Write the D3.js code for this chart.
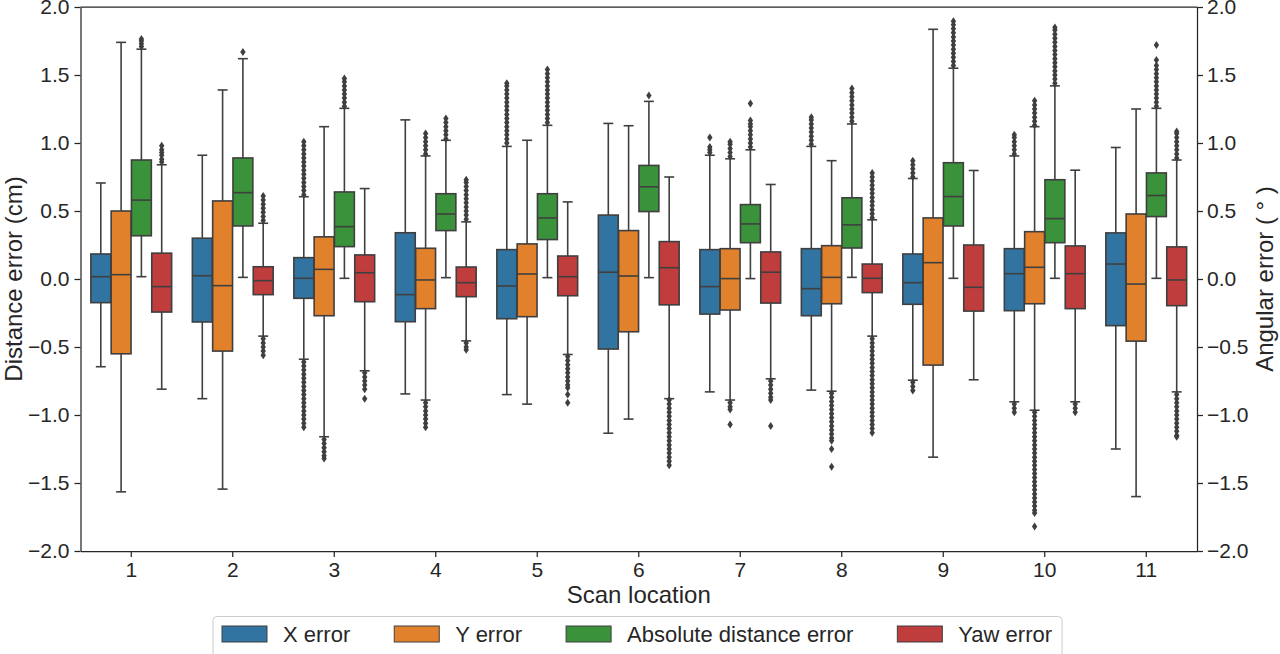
<!DOCTYPE html>
<html>
<head>
<meta charset="utf-8">
<script src="https://cdn.jsdelivr.net/npm/d3@7"></script>
<style>
body { margin: 0; background: #fff; }
text { font-family: "Liberation Sans", Arial, sans-serif; fill: #262626; }
</style>
</head>
<body>
<div id="chart"></div>
<script>
var width = 1280
var height = 654

const locations = ["1", "2", "3", "4", "5", "6", "7", "8", "9", "10", "11"];
const seriesNames = ["X error", "Y error", "Absolute distance error", "Yaw error"];
const seriesColors = ["#3274a1", "#e1812c", "#3a923a", "#c03d3e"];
const yTicks = [-2.0, -1.5, -1.0, -0.5, 0.0, 0.5, 1.0, 1.5, 2.0];

// [lower whisker, q1, median, q3, upper whisker] for each scan location
const xError = [
    [-0.645, -0.174, 0.017, 0.184, 0.706],
    [-0.88, -0.316, 0.024, 0.30, 0.91],
    [-0.59, -0.142, 0.005, 0.157, 0.605],
    [-0.845, -0.314, -0.115, 0.34, 1.17],
    [-0.85, -0.292, -0.051, 0.216, 0.975],
    [-1.134, -0.515, 0.05, 0.47, 1.144],
    [-0.83, -0.258, -0.056, 0.216, 0.91],
    [-0.817, -0.27, -0.071, 0.223, 0.975],
    [-0.744, -0.186, -0.027, 0.184, 0.739],
    [-0.903, -0.233, 0.039, 0.223, 0.905],
    [-1.25, -0.343, 0.11, 0.339, 0.967]
];
const yError = [
    [-1.565, -0.55, 0.032, 0.50, 1.74],
    [-1.545, -0.53, -0.049, 0.574, 1.39],
    [-1.16, -0.27, 0.071, 0.31, 1.12],
    [-0.89, -0.218, -0.007, 0.226, 0.905],
    [-0.92, -0.277, 0.037, 0.258, 1.02],
    [-1.03, -0.388, 0.022, 0.356, 1.127],
    [-0.89, -0.228, 0.003, 0.223, 0.884],
    [-0.825, -0.182, 0.012, 0.245, 0.87],
    [-1.31, -0.633, 0.12, 0.449, 1.836],
    [-0.965, -0.182, 0.086, 0.348, 1.12],
    [-1.60, -0.457, -0.037, 0.478, 1.25]
];
const absError = [
    [0.017, 0.318, 0.58, 0.875, 1.69],
    [0.012, 0.39, 0.635, 0.89, 1.62],
    [0.005, 0.238, 0.385, 0.64, 1.255],
    [0.01, 0.356, 0.478, 0.627, 1.02],
    [0.01, 0.29, 0.449, 0.627, 1.13],
    [0.01, 0.496, 0.678, 0.835, 1.306],
    [0.003, 0.267, 0.405, 0.547, 0.95],
    [0.012, 0.228, 0.398, 0.597, 1.14],
    [0.005, 0.39, 0.606, 0.855, 1.55],
    [0.005, 0.267, 0.444, 0.73, 1.42],
    [0.005, 0.459, 0.614, 0.78, 1.255]
];
const yawError = [
    [-0.81, -0.243, -0.056, 0.19, 0.84],
    [-0.42, -0.115, -0.012, 0.09, 0.41],
    [-0.675, -0.167, 0.046, 0.177, 0.665],
    [-0.455, -0.13, -0.027, 0.088, 0.42],
    [-0.555, -0.123, 0.017, 0.169, 0.567],
    [-0.88, -0.19, 0.083, 0.275, 0.75],
    [-0.734, -0.177, 0.05, 0.199, 0.695],
    [-0.42, -0.1, 0.005, 0.11, 0.435],
    [-0.741, -0.236, -0.061, 0.25, 0.798],
    [-0.903, -0.218, 0.039, 0.243, 0.80],
    [-0.83, -0.196, -0.007, 0.236, 0.875]
];

// outlier points (fliers) for each scan location
const xOutliers = [
    [],
    [],
    [0.62, 0.65, 0.68, 0.71, 0.74, 0.77, 0.80, 0.83, 0.86, 0.89, 0.92, 0.95, 0.98, 1.01,
     -0.61, -0.64, -0.67, -0.70, -0.73, -0.76, -0.79, -0.82, -0.85, -0.88, -0.91, -0.94, -0.97, -1.00, -1.03, -1.06, -1.09],
    [],
    [1.00, 1.03, 1.06, 1.09, 1.12, 1.15, 1.18, 1.21, 1.24, 1.27, 1.30, 1.33, 1.36, 1.39, 1.42, 1.44],
    [],
    [0.93, 0.95, 0.97, 1.04],
    [0.99, 1.02, 1.05, 1.08, 1.11, 1.14, 1.17, 1.19],
    [0.75, 0.78, 0.81, 0.84, 0.87, -0.76, -0.79, -0.82],
    [0.92, 0.95, 0.98, 1.01, 1.04, 1.06, -0.92, -0.95, -0.98],
    []
];
const yOutliers = [
    [],
    [],
    [-1.18, -1.21, -1.24, -1.27, -1.30, -1.32],
    [0.92, 0.95, 0.98, 1.01, 1.04, 1.07, -0.91, -0.94, -0.97, -1.00, -1.03, -1.06, -1.09],
    [],
    [],
    [0.90, 0.93, 0.96, 0.99, 1.01, -0.91, -0.94, -0.96, -1.07],
    [-0.84, -0.87, -0.90, -0.93, -0.96, -0.99, -1.02, -1.05, -1.08, -1.11, -1.14, -1.17, -1.19, -1.25, -1.38],
    [],
    [1.13, 1.16, 1.19, 1.22, 1.25, 1.28, 1.31,
     -0.98, -1.01, -1.04, -1.07, -1.10, -1.13, -1.16, -1.19, -1.22, -1.25, -1.28, -1.31, -1.34, -1.37, -1.40,
     -1.43, -1.46, -1.49, -1.52, -1.55, -1.58, -1.61, -1.64, -1.67, -1.70, -1.72, -1.82],
    []
];
const absOutliers = [
    [1.71, 1.73, 1.75, 1.765],
    [1.67],
    [1.27, 1.30, 1.33, 1.36, 1.39, 1.42, 1.45, 1.475],
    [1.03, 1.06, 1.09, 1.12, 1.15, 1.18],
    [1.15, 1.18, 1.21, 1.24, 1.27, 1.30, 1.33, 1.36, 1.39, 1.42, 1.45, 1.48, 1.51, 1.54],
    [1.35],
    [0.97, 1.00, 1.03, 1.06, 1.09, 1.12, 1.14, 1.165, 1.29],
    [1.16, 1.19, 1.22, 1.25, 1.28, 1.31, 1.34, 1.37, 1.40],
    [1.57, 1.60, 1.63, 1.66, 1.69, 1.72, 1.75, 1.78, 1.81, 1.84, 1.87, 1.895],
    [1.44, 1.47, 1.50, 1.53, 1.56, 1.59, 1.62, 1.65, 1.68, 1.71, 1.74, 1.77, 1.80, 1.83, 1.85],
    [1.27, 1.30, 1.33, 1.36, 1.39, 1.42, 1.45, 1.48, 1.51, 1.54, 1.57, 1.61, 1.72]
];
const yawOutliers = [
    [0.86, 0.88, 0.91, 0.93, 0.95, 0.98],
    [0.43, 0.46, 0.49, 0.52, 0.55, 0.58, 0.61, -0.44, -0.47, -0.50, -0.53, -0.56],
    [-0.69, -0.72, -0.75, -0.78, -0.81, -0.88],
    [0.44, 0.47, 0.50, 0.53, 0.56, 0.59, 0.62, 0.65, 0.68, 0.71, 0.73, -0.47, -0.50, -0.52],
    [-0.57, -0.60, -0.63, -0.66, -0.69, -0.72, -0.75, -0.78, -0.80, -0.85, -0.91],
    [-0.89, -0.92, -0.95, -0.98, -1.01, -1.04, -1.07, -1.10, -1.13, -1.16, -1.19, -1.22, -1.25, -1.28, -1.31, -1.34, -1.37],
    [-0.75, -0.78, -0.81, -0.84, -0.87, -0.89, -1.08],
    [0.45, 0.48, 0.51, 0.54, 0.57, 0.60, 0.63, 0.66, 0.69, 0.72, 0.75, 0.78,
     -0.44, -0.47, -0.50, -0.53, -0.56, -0.59, -0.62, -0.65, -0.68, -0.71, -0.74, -0.77, -0.80, -0.83, -0.86,
     -0.89, -0.92, -0.95, -0.98, -1.01, -1.04, -1.07, -1.10, -1.13],
    [],
    [-0.92, -0.95, -0.98],
    [0.89, 0.92, 0.95, 0.98, 1.01, 1.04, 1.07, 1.085,
     -0.85, -0.88, -0.91, -0.94, -0.97, -1.00, -1.03, -1.06, -1.09, -1.12, -1.15, -1.16]
];

const stats = [xError, yError, absError, yawError];
const fliers = [xOutliers, yOutliers, absOutliers, yawOutliers];

const margin = {top: 7, right: 83, bottom: 103, left: 80.5};
const lineColor = "#3f3f3f";

const svg = d3.select("#chart")
    .append("svg")
    .attr("width", width)
    .attr("height", height);

const x = d3.scaleBand()
    .domain(locations)
    .range([margin.left, width - margin.right])
    .padding(0);

const hue = d3.scaleBand()
    .domain(seriesNames)
    .range([-x.bandwidth() * 0.4, x.bandwidth() * 0.4]);

const y = d3.scaleLinear()
    .domain([-2, 2])
    .range([height - margin.bottom, margin.top]);

// second axis for the angular error, same range
const y2 = d3.scaleLinear()
    .domain([-2, 2])
    .range([height - margin.bottom, margin.top]);

const fmt = d3.format(".1f");
const boxW = hue.bandwidth() * 0.98;

const rows = [];
locations.forEach(function(loc, i) {
    seriesNames.forEach(function(name, s) {
        rows.push({
            loc: loc, s: s, name: name,
            v: stats[s][i], out: fliers[s][i],
            cx: x(loc) + x.bandwidth() / 2 + hue(name) + hue.bandwidth() / 2
        });
    });
});

const boxes = svg.append("g")
    .selectAll("g")
    .data(rows)
    .enter()
    .append("g");

// whiskers
boxes.append("line")
    .attr("x1", d => d.cx).attr("x2", d => d.cx)
    .attr("y1", d => y(d.v[3])).attr("y2", d => y(d.v[4]))
    .attr("stroke", lineColor).attr("stroke-width", 1.6);
boxes.append("line")
    .attr("x1", d => d.cx).attr("x2", d => d.cx)
    .attr("y1", d => y(d.v[1])).attr("y2", d => y(d.v[0]))
    .attr("stroke", lineColor).attr("stroke-width", 1.6);

// caps
[0, 4].forEach(function(k) {
    boxes.append("line")
        .attr("x1", d => d.cx - boxW / 4).attr("x2", d => d.cx + boxW / 4)
        .attr("y1", d => y(d.v[k])).attr("y2", d => y(d.v[k]))
        .attr("stroke", lineColor).attr("stroke-width", 1.6);
});

boxes.append("rect")
    .attr("x", d => d.cx - boxW / 2)
    .attr("y", d => y(d.v[3]))
    .attr("width", boxW)
    .attr("height", d => y(d.v[1]) - y(d.v[3]))
    .attr("fill", d => seriesColors[d.s])
    .attr("stroke", lineColor)
    .attr("stroke-width", 1.6);

// median
boxes.append("line")
    .attr("x1", d => d.cx - boxW / 2).attr("x2", d => d.cx + boxW / 2)
    .attr("y1", d => y(d.v[2])).attr("y2", d => y(d.v[2]))
    .attr("stroke", lineColor).attr("stroke-width", 1.6);

// fliers as thin diamonds
boxes.selectAll("path.flier")
    .data(d => d.out.map(v => ({cx: d.cx, v: v})))
    .enter()
    .append("path")
    .attr("class", "flier")
    .attr("d", d => {
        const cy = y(d.v);
        return "M" + d.cx + "," + (cy - 4) + "L" + (d.cx + 2.7) + "," + cy +
               "L" + d.cx + "," + (cy + 4) + "L" + (d.cx - 2.7) + "," + cy + "Z";
    })
    .attr("fill", lineColor);

// axes
const axisStyle = function(g) {
    g.selectAll("path, line").attr("stroke", "#262626").attr("stroke-width", 1.25);
    g.selectAll("text").attr("fill", "#262626").style("font-size", "21px")
        .style("font-family", '"Liberation Sans", Arial, sans-serif');
};

svg.append("g")
    .attr("transform", "translate(" + margin.left + ",0)")
    .call(d3.axisLeft(y).tickValues(yTicks).tickFormat(fmt).tickSize(6).tickPadding(5).tickSizeOuter(0))
    .call(axisStyle);

svg.append("g")
    .attr("transform", "translate(" + (width - margin.right) + ",0)")
    .call(d3.axisRight(y2).tickValues(yTicks).tickFormat(fmt).tickSize(6).tickPadding(4).tickSizeOuter(0))
    .call(axisStyle);

svg.append("g")
    .attr("transform", "translate(0," + (height - margin.bottom) + ")")
    .call(d3.axisBottom(x).tickSize(6).tickPadding(5).tickSizeOuter(0))
    .call(axisStyle);

svg.append("line")
    .attr("x1", margin.left).attr("x2", width - margin.right)
    .attr("y1", margin.top).attr("y2", margin.top)
    .attr("stroke", "#262626").attr("stroke-width", 1.25);

// axis labels
svg.append("text")
    .attr("transform", "translate(21.5," + y(0) + ") rotate(-90)")
    .attr("text-anchor", "middle")
    .style("font-size", "24px")
    .text("Distance error (cm)");

svg.append("text")
    .attr("transform", "translate(1273," + y(0) + ") rotate(-90)")
    .attr("text-anchor", "middle")
    .style("font-size", "24px")
    .text("Angular error ( \u00b0 )");

svg.append("text")
    .attr("x", (margin.left + width - margin.right) / 2)
    .attr("y", 603)
    .attr("text-anchor", "middle")
    .style("font-size", "24px")
    .text("Scan location");

// legend
const legend = svg.append("g");
const legendBox = legend.append("rect")
    .attr("x", 213).attr("y", 616.5)
    .attr("height", 50).attr("rx", 4)
    .attr("fill", "#fff").attr("fill-opacity", 0.8)
    .attr("stroke", "#cccccc").attr("stroke-width", 1);

let lx = 222;
seriesNames.forEach(function(name, s) {
    legend.append("rect")
        .attr("x", lx).attr("y", 626)
        .attr("width", 45).attr("height", 16)
        .attr("fill", seriesColors[s])
        .attr("stroke", lineColor).attr("stroke-width", 1);
    const t = legend.append("text")
        .attr("x", lx + 61).attr("y", 641.5)
        .style("font-size", "22px")
        .text(name);
    lx = lx + 61 + t.node().getComputedTextLength() + 44;
});
legendBox.attr("width", lx - 44 + 10 - 213);
</script>
</body>
</html>
